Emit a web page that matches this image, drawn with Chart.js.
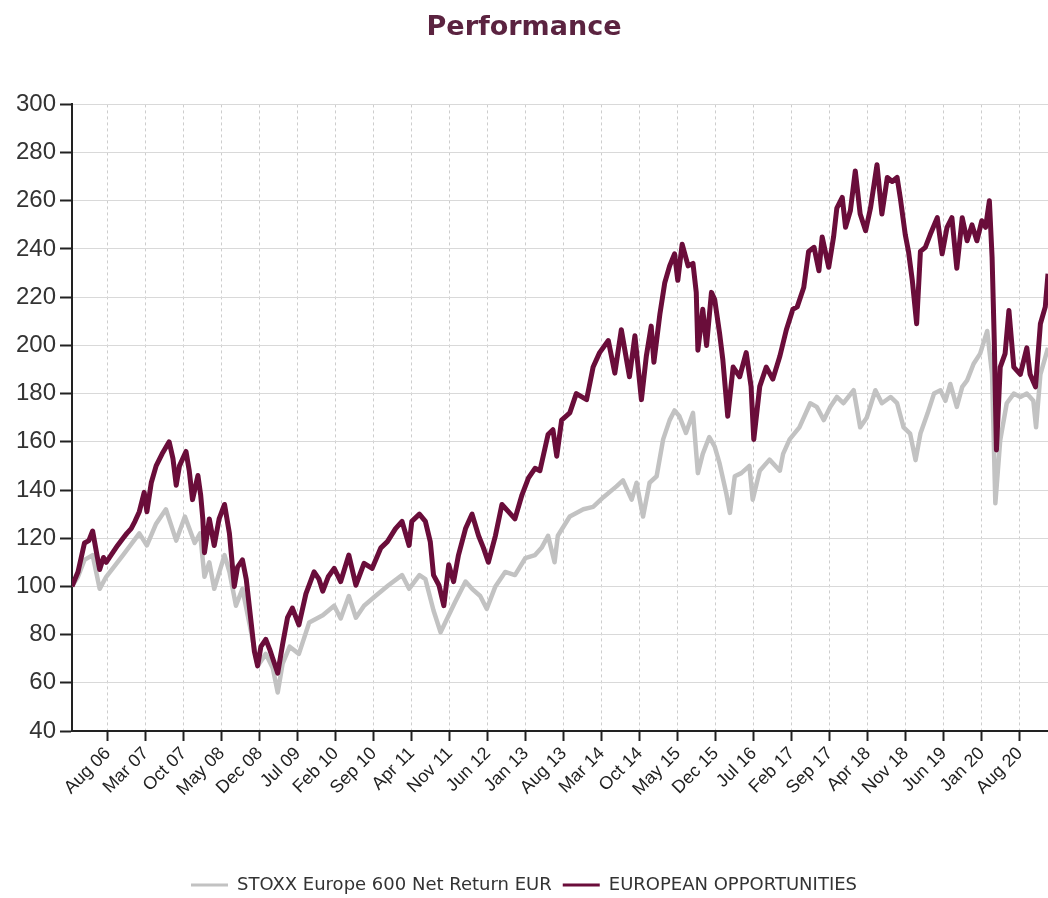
<!DOCTYPE html>
<html>
<head>
<meta charset="utf-8">
<script src="https://cdn.jsdelivr.net/npm/chart.js@4.4.0/dist/chart.umd.min.js"></script>
<style>
  html, body { margin: 0; padding: 0; background: #fff; }
</style>
</head>
<body>
<canvas id="perfChart" width="1048" height="898"></canvas>
<script>
// x values are months counted from 1 Jan 2006
const tickLabels = ['Aug 06', 'Mar 07', 'Oct 07', 'May 08', 'Dec 08', 'Jul 09', 'Feb 10', 'Sep 10',
    'Apr 11', 'Nov 11', 'Jun 12', 'Jan 13', 'Aug 13', 'Mar 14', 'Oct 14', 'May 15', 'Dec 15',
    'Jul 16', 'Feb 17', 'Sep 17', 'Apr 18', 'Nov 18', 'Jun 19', 'Jan 20', 'Aug 20'];

const fundMonths = [0.4, 1.5, 2.7, 3.5, 4.2, 5.0, 5.5, 6.2, 6.7, 7.9, 8.8, 9.8, 10.5, 11.3, 12.0, 12.8,
    13.7, 14.2, 15.0, 15.9, 17.0, 18.3, 19.0, 19.6, 20.2, 21.4, 22.0, 22.6, 23.6, 24.1, 24.5, 24.8,
    25.7, 26.6, 27.5, 28.5, 29.4, 30.3, 30.9, 31.8, 32.5, 33.4, 34.0, 34.6, 35.2, 36.1, 36.8, 37.4,
    38.3, 39.2, 40.1, 41.0, 42.2, 43.5, 45.0, 45.9, 46.6, 47.6, 48.7, 49.9, 51.4, 52.7, 54.2, 55.7,
    57.3, 58.5, 60.0, 61.2, 62.5, 63.0, 64.4, 65.5, 66.4, 67.0, 68.0, 68.9, 69.8, 70.7, 71.6, 72.9,
    74.1, 75.3, 76.2, 77.1, 78.4, 79.6, 80.8, 82.0, 83.3, 84.5, 85.7, 86.6, 88.1, 89.0, 89.7, 90.6,
    92.1, 93.3, 95.2, 96.4, 97.6, 99.2, 100.4, 101.6, 103.1, 104.1, 105.3, 106.2, 107.1, 107.6, 108.7,
    109.6, 110.5, 111.4, 112.0, 112.8, 113.9, 114.8, 115.4, 115.7, 116.6, 117.3, 118.2, 118.8, 119.7,
    120.3, 121.2, 122.2, 123.4, 124.6, 125.5, 126.0, 127.1, 128.3, 129.5, 130.8, 132.0, 133.2, 134.0,
    135.2, 136.1, 137.1, 138.0, 138.6, 139.8, 140.7, 141.3, 142.3, 142.9, 143.8, 144.7, 145.6, 146.6,
    147.5, 148.7, 149.6, 150.6, 151.5, 152.4, 153.0, 153.9, 154.5, 155.2, 156.0, 156.7, 157.6, 158.5,
    159.8, 160.7, 161.6, 162.5, 163.4, 164.4, 165.3, 166.2, 167.1, 168.0, 168.7, 169.4, 169.9, 170.3,
    170.7, 171.4, 172.3, 173.0, 173.9, 175.1, 176.3, 176.9, 177.9, 178.8, 179.7, 180.2];
const fundValues = [100, 106, 118, 119, 123, 113, 107, 112, 110, 114, 117, 120, 122, 124, 127, 131,
    139, 131, 143, 150, 155, 160, 153, 142, 150, 156, 148, 136, 146, 138, 128, 114,
    128, 117, 128, 134, 122, 100, 108, 111, 103, 85, 73, 67, 75, 78, 74, 70,
    64, 76, 87, 91, 84, 97, 106, 103, 98, 104, 107.5, 102, 113, 100.5, 109.6, 107.5,
    116, 118.6, 124, 127, 117, 127, 130, 127, 118.6, 104.7, 100.5, 92, 109, 102, 113, 124,
    130, 121, 116, 110, 121, 134, 131, 128, 138, 145, 149, 148, 163, 165, 154, 169,
    172, 180, 177.5, 191, 197, 202, 188.5, 206.5, 187, 204, 177.5, 195.5, 208, 193, 213,
    226, 233, 238, 227, 242, 233, 234, 222, 198, 215, 200, 222, 219, 205,
    194, 170.6, 191, 187, 197, 183, 161, 183, 191, 186, 195.5, 206.5, 215, 216,
    224, 239, 240.7, 231, 245, 232.4, 245, 257, 261.4, 249, 256, 272.4, 254.5, 247.6,
    257, 275, 254.5, 269.7, 268, 269.7, 261, 246, 239, 227, 209, 239, 240.7, 246,
    253, 238, 249, 253, 232, 253, 243.4, 250, 243.4, 251.7, 249, 260, 236.6, 202,
    156.6, 191, 196.6, 214.5, 191, 188, 199, 188, 182.8, 209, 216, 229.7];

const benchMonths = [0.4, 1.5, 2.7, 4.2, 5.5, 6.7, 9.8, 12.8, 14.2, 15.9, 17.7, 19.6, 21.2, 23.0, 24.0,
    24.8, 25.7, 26.6, 28.5, 29.4, 30.6, 31.8, 33.4, 34.6, 36.1, 37.4, 38.3, 39.2, 40.5, 42.2, 44.1,
    46.6, 48.7, 49.9, 51.4, 52.7, 54.2, 56.3, 58.7, 61.2, 62.5, 64.4, 65.5, 67.0, 68.3, 69.8, 71.0,
    72.9, 74.1, 75.6, 76.8, 78.4, 80.2, 82.0, 83.9, 85.7, 86.9, 88.1, 89.3, 89.9, 92.1, 94.6, 96.4,
    98.3, 100.7, 101.9, 103.5, 104.4, 105.6, 106.8, 108.1, 109.3, 110.5, 111.4, 112.3, 113.5, 114.8,
    115.7, 116.6, 117.8, 118.8, 119.7, 120.9, 121.6, 122.5, 123.7, 125.2, 125.8, 127.1, 128.9, 130.8,
    131.4, 132.6, 134.4, 136.4, 137.6, 138.9, 140.1, 141.3, 142.5, 144.4, 145.6, 146.8, 148.4, 149.6,
    151.2, 152.4, 153.6, 154.8, 155.8, 156.7, 158.0, 159.2, 160.4, 161.3, 162.2, 163.4, 164.4, 165.3,
    166.5, 167.7, 169.0, 169.9, 170.5, 171.4, 172.6, 173.9, 175.1, 176.3, 177.5, 178.0, 178.8, 180.2];
const benchValues = [100, 104, 111, 113, 99, 104, 113, 122, 117, 126, 132, 119, 129, 118, 122,
    104, 110, 99, 113, 106, 92, 99, 81, 67, 72, 66, 56, 68, 75, 72, 85,
    88, 92, 86.7, 96, 87, 92, 96, 100.5, 104.7, 99, 104.7, 103, 90, 81, 88, 93.6,
    102, 99, 96, 90.7, 100, 106, 104.7, 111.7, 113, 116, 121, 110, 121, 129, 132, 133,
    137, 141.5, 144, 136, 143, 129, 143, 145.7, 161, 169, 173, 170.6, 163.7, 172,
    147, 155, 162, 158, 151, 139, 130.5, 145.7, 147, 150, 136, 148, 152.6, 148,
    155, 161, 166, 176, 174.5, 169, 174.5, 178.6, 176, 181.4, 166, 170, 181.4, 176,
    178.6, 176, 166, 163.4, 152.4, 163.4, 171.7, 180, 181.4, 177, 184, 174.5, 182.8, 185.5,
    192.4, 196.6, 206, 188, 134.5, 160.7, 176, 180, 178.6, 180, 177, 166, 188, 199];

const monthNames = ['Jan', 'Feb', 'Mar', 'Apr', 'May', 'Jun', 'Jul', 'Aug', 'Sep', 'Oct', 'Nov', 'Dec'];
const tickMonths = tickLabels.map(l => {
    const [mon, yr] = l.split(' ');
    return monthNames.indexOf(mon) + (parseInt(yr, 10) - 6) * 12;
});

const toPoints = (xs, ys) => xs.map((x, i) => ({ x: x, y: ys[i] }));

const maroon = '#6a0d3a';
const grey = '#c2c2c2';

const ctx = document.getElementById('perfChart').getContext('2d');
new Chart(ctx, {
    type: 'line',
    data: {
        datasets: [{
            // drawn last, so it sits on top of the index line
            label: 'EUROPEAN OPPORTUNITIES',
            data: toPoints(fundMonths, fundValues),
            borderColor: maroon,
            backgroundColor: maroon,
            borderWidth: 5,
            borderJoinStyle: 'round',
            pointRadius: 0,
            tension: 0
        }, {
            label: 'STOXX Europe 600 Net Return EUR',
            data: toPoints(benchMonths, benchValues),
            borderColor: grey,
            backgroundColor: grey,
            borderWidth: 4.5,
            borderJoinStyle: 'round',
            pointRadius: 0,
            tension: 0
        }]
    },
    options: {
        responsive: false,
        animation: false,
        layout: { padding: { left: 0, right: 0, top: 0, bottom: -6 } },
        scales: {
            x: {
                type: 'linear',
                min: 0.4,
                max: 180.2,
                afterBuildTicks: axis => {
                    axis.ticks = tickMonths.map(v => ({ value: v }));
                },
                afterFit: scale => { scale.height = 134; },
                ticks: {
                    autoSkip: false,
                    maxRotation: 45,
                    minRotation: 45,
                    padding: 2,
                    color: '#222',
                    font: { family: 'Liberation Sans', size: 18 },
                    callback: (value, index) => tickLabels[index]
                },
                grid: {
                    color: '#cdcdcd',
                    tickColor: '#222',
                    tickLength: 10,
                    tickWidth: 2
                },
                border: { color: '#222', width: 2, dash: [3, 3] }
            },
            y: {
                min: 40,
                max: 300,
                afterFit: scale => { scale.width = 72; },
                ticks: {
                    stepSize: 20,
                    padding: 4,
                    color: '#333',
                    font: { family: 'Liberation Sans', size: 24 }
                },
                grid: {
                    color: '#d9d9d9',
                    tickColor: '#222',
                    tickLength: 12,
                    tickWidth: 2
                },
                border: { color: '#222', width: 2 }
            }
        },
        plugins: {
            title: {
                display: true,
                text: 'Performance',
                color: '#5b2340',
                font: { family: 'DejaVu Sans', size: 27, weight: 'bold' },
                padding: { top: 12, bottom: 60 }
            },
            legend: {
                position: 'bottom',
                labels: {
                    color: '#333',
                    font: { family: 'DejaVu Sans', size: 18 },
                    boxWidth: 37,
                    boxHeight: 3,
                    padding: 11,
                    generateLabels: chart => {
                        const items = Chart.defaults.plugins.legend.labels.generateLabels(chart);
                        items.forEach(it => { it.lineWidth = 0; });
                        return items.reverse();
                    }
                }
            },
            tooltip: { enabled: false }
        }
    }
});
</script>
</body>
</html>
